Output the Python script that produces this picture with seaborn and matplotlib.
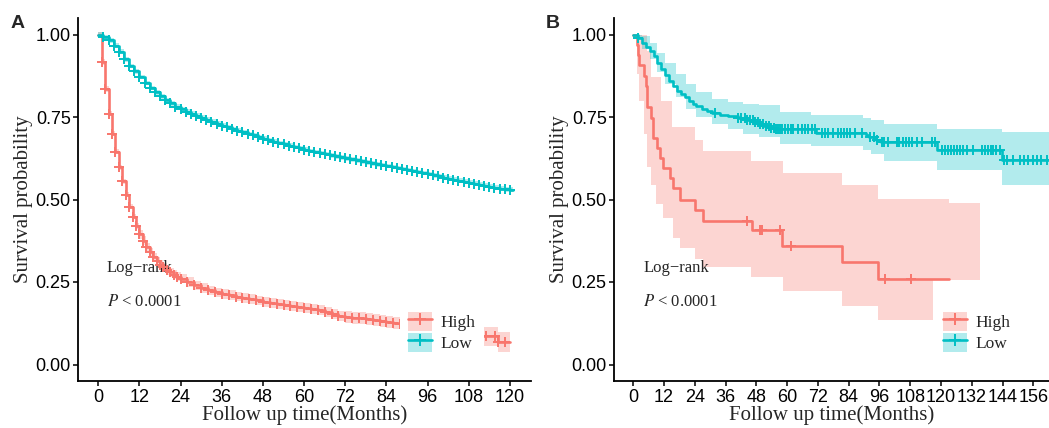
import numpy as np
import matplotlib
matplotlib.use("Agg")
import matplotlib.pyplot as plt
import seaborn as sns
from matplotlib.patches import Patch
from matplotlib.lines import Line2D
from matplotlib.legend_handler import HandlerTuple

sns.set_theme(style="ticks")
plt.rcParams['font.family'] = ['Liberation Sans', 'DejaVu Sans']
plt.rcParams['mathtext.fontset'] = 'stix'

RED = '#F8766D'
TEAL = '#00BFC4'
SERIF = ['Liberation Serif', 'DejaVu Serif']

groups = ["High", "Low"]
x_ticks_a = list(range(0, 121, 12))
x_ticks_b = list(range(0, 157, 12))
y_ticks = [0.00, 0.25, 0.50, 0.75, 1.00]

# ---------------- Panel A ----------------
high_a_time = [0, 1, 2, 3, 4, 5, 6, 7, 8, 9, 10, 11, 12, 13, 14, 15, 16, 17, 18, 19,
               20, 21, 22, 23, 24, 26, 28, 30, 32, 34, 36, 38, 40, 42, 44, 46, 48, 50,
               52, 54, 56, 58, 60, 62, 64, 66, 68, 70, 72, 74, 76, 78, 80, 82, 84, 86,
               88, 100, 111.3, 113, 115.7, 116.5, 118.5]
high_a_surv = [1.0, 0.917, 0.835, 0.76, 0.70, 0.645, 0.598, 0.555, 0.515, 0.478, 0.448,
               0.42, 0.395, 0.375, 0.355, 0.34, 0.325, 0.313, 0.303, 0.294, 0.286, 0.279,
               0.272, 0.266, 0.26, 0.25, 0.24, 0.232, 0.225, 0.219, 0.214, 0.21, 0.206,
               0.202, 0.198, 0.194, 0.19, 0.186, 0.182, 0.179, 0.176, 0.173, 0.17, 0.167,
               0.164, 0.16, 0.152, 0.148, 0.145, 0.142, 0.14, 0.138, 0.135, 0.132, 0.129,
               0.126, 0.124, 0.11, 0.085, 0.085, 0.085, 0.068, 0.068]
high_a_end = 120
high_a_ci_time = [0, 12, 36, 72, 100]
high_a_ci_half = [0.008, 0.014, 0.015, 0.018, 0.03]

low_a_time = [0, 1.5, 3, 4.5, 6, 7.5, 9, 10.5, 12, 13.5, 15, 16.5, 18, 19.5, 21, 22.5, 24,
              25.5, 27, 28.5, 30, 31.5, 33, 34.5, 36, 37.5, 39, 40.5, 42, 43.5, 45, 46.5,
              48, 49.5, 51, 52.5, 54, 55.5, 57, 58.5, 60, 61.5, 63, 64.5, 66, 67.5, 69,
              70.5, 72, 73.5, 75, 76.5, 78, 79.5, 81, 82.5, 84, 85.5, 87, 88.5, 90, 91.5,
              93, 94.5, 96, 97.5, 99, 100.5, 102, 103.5, 105, 106.5, 108, 109.5, 111,
              112.5, 114, 115.5, 117, 118.5, 120]
low_a_surv = [1.0, 0.993, 0.982, 0.966, 0.948, 0.925, 0.905, 0.888, 0.871, 0.853, 0.838,
              0.825, 0.813, 0.801, 0.791, 0.781, 0.773, 0.766, 0.760, 0.754, 0.748, 0.742,
              0.736, 0.730, 0.724, 0.719, 0.714, 0.709, 0.704, 0.699, 0.694, 0.689, 0.684,
              0.680, 0.675, 0.671, 0.667, 0.663, 0.659, 0.655, 0.651, 0.647, 0.644, 0.641,
              0.638, 0.634, 0.631, 0.628, 0.625, 0.622, 0.619, 0.616, 0.613, 0.610, 0.607,
              0.604, 0.601, 0.598, 0.595, 0.592, 0.589, 0.586, 0.583, 0.580, 0.577, 0.573,
              0.570, 0.566, 0.563, 0.560, 0.557, 0.554, 0.551, 0.548, 0.545, 0.542, 0.539,
              0.536, 0.533, 0.531, 0.530]
low_a_end = 121
low_a_ci_time = [0]
low_a_ci_half = [0.007]

# ---------------- Panel B ----------------
high_b_time = [0, 1.5, 1.9, 2.3, 4.3, 4.9, 5.3, 6.8, 7.6, 9.1, 10.4, 11.7, 14.3, 15.6,
               18.2, 24.0, 27.3, 46.1, 58.1, 81.3, 95.4]
high_b_surv = [1.0, 0.969, 0.938, 0.908, 0.875, 0.845, 0.78, 0.746, 0.686, 0.655, 0.625,
               0.595, 0.565, 0.534, 0.499, 0.469, 0.435, 0.407, 0.36, 0.31, 0.26]
high_b_end = 123.3
high_b_censor = [44.4, 49.4, 50.0, 57.4, 61.4, 98.1, 108.3]
high_b_ci_time = [0, 1.5, 2.3, 4.3, 5.3, 7.1, 9.0, 11.0, 11.6, 15.0, 15.5, 18.1, 23.9,
                  27.2, 46.0, 58.2, 81.3, 95.4, 117.0, 123.3]
high_b_ci_low = [0.99, 0.88, 0.80, 0.70, 0.60, 0.545, 0.485, 0.485, 0.444, 0.444, 0.384,
                 0.354, 0.32, 0.295, 0.266, 0.224, 0.177, 0.134, 0.255, 0.255]
high_b_ci_high = [1.0, 1.0, 1.0, 1.0, 0.95, 0.87, 0.87, 0.80, 0.80, 0.72, 0.72, 0.72,
                  0.68, 0.648, 0.618, 0.581, 0.544, 0.502, 0.502, 0.488]
high_b_ci_end = 135.3

low_b_time = [0, 1.8, 3.3, 4.8, 6.4, 7.9, 9.4, 10.9, 12.5, 14.0, 15.5, 17.0, 18.5, 20.1,
              21.6, 23.1, 24.6, 26.7, 28.7, 30.7, 33.8, 36.8, 40.9, 43.9, 47.0, 49.0, 51.0,
              53.1, 55.1, 57.1, 71.3, 90.6, 92.1, 94.7, 96.7, 118.5, 143.9]
low_b_surv = [1.0, 0.99, 0.975, 0.963, 0.95, 0.936, 0.915, 0.895, 0.877, 0.86, 0.845,
              0.83, 0.82, 0.81, 0.80, 0.79, 0.783, 0.775, 0.768, 0.763, 0.757, 0.752,
              0.746, 0.741, 0.735, 0.73, 0.724, 0.718, 0.714, 0.713, 0.703, 0.695, 0.688,
              0.681, 0.673, 0.649, 0.619]
low_b_end = 170
low_b_censor = [1.8, 31.7, 40.9, 42.1, 43.4, 44.4, 45.5, 46.7, 47.5, 48.6, 49.5, 50.5,
                51.6, 52.8, 53.6, 54.7, 55.8, 56.4, 57.2, 58.1, 59.1, 60.2, 61.5, 62.4,
                64.3, 65.7, 67.0, 68.3, 69.6, 70.8, 73.5, 74.9, 76.0, 78.0, 80.0, 81.1,
                82.3, 83.5, 84.5, 86.4, 89.1, 92.3, 93.7, 95.2, 96.9, 97.7, 99.4, 102.7,
                103.8, 105.0, 106.2, 107.4, 108.5, 110.5, 112.4, 116.4, 117.6, 120.3,
                121.6, 122.6, 123.7, 125.1, 126.1, 127.3, 128.7, 130.2, 132.6, 135.9,
                137.0, 138.2, 139.3, 140.3, 141.6, 142.9, 144.4, 145.6, 148.2, 150.8,
                152.5, 154.1, 156.0, 157.6, 159.1, 161.2]
low_b_ci_time = [0, 3.3, 6.4, 9.4, 12.5, 16.5, 20.6, 24.6, 30.7, 36.8, 42.9, 49.0, 57.1,
                 69.3, 89.6, 92.6, 97.7, 118.5, 143.9]
low_b_ci_low = [0.99, 0.955, 0.925, 0.885, 0.85, 0.81, 0.775, 0.75, 0.73, 0.715, 0.70,
                0.688, 0.669, 0.661, 0.65, 0.638, 0.618, 0.59, 0.545]
low_b_ci_high = [1.0, 0.995, 0.975, 0.945, 0.915, 0.88, 0.85, 0.825, 0.805, 0.795, 0.79,
                 0.787, 0.765, 0.755, 0.748, 0.741, 0.729, 0.714, 0.706]
low_b_ci_end = 170


def step_at(t, v, x):
    t = np.asarray(t, float)
    idx = np.searchsorted(t, np.asarray(x, float), side='right') - 1
    return np.asarray(v, float)[np.clip(idx, 0, len(t) - 1)]


def draw_band(ax, t, lo, hi, t_end, color):
    bt = np.append(np.asarray(t, float), t_end)
    lo = np.asarray(lo, float)
    hi = np.asarray(hi, float)
    ax.fill_between(bt, np.append(lo, lo[-1]), np.append(hi, hi[-1]), step='post',
                    color=color, alpha=0.3, lw=0, zorder=1)


def draw_curve(ax, t, v, t_end, cens, color):
    x = np.append(np.asarray(t, float), t_end)
    y = np.append(np.asarray(v, float), v[-1])
    sns.lineplot(x=x, y=y, ax=ax, drawstyle='steps-post', estimator=None, sort=False,
                 color=color, lw=1.9, zorder=3)
    cy = step_at(t, v, cens)
    sns.scatterplot(x=np.asarray(cens, float), y=cy, ax=ax, marker='+', s=55,
                    linewidth=1.4, color=color, zorder=4)


fig = plt.figure(figsize=(10.49, 4.28), dpi=100)
W, H = 1049, 428
AX_BOTTOM, AX_H = 47, 363
axA = fig.add_axes([78.3 / W, AX_BOTTOM / H, 452.2 / W, AX_H / H])
axB = fig.add_axes([614.3 / W, AX_BOTTOM / H, 434.7 / W, AX_H / H])

# Panel A
hwH = step_at(high_a_ci_time, high_a_ci_half, high_a_time)
draw_band(axA, high_a_time, np.array(high_a_surv) - hwH, np.array(high_a_surv) + hwH,
          high_a_end, RED)
hwL = step_at(low_a_ci_time, low_a_ci_half, low_a_time)
draw_band(axA, low_a_time, np.array(low_a_surv) - hwL, np.array(low_a_surv) + hwL,
          low_a_end, TEAL)
draw_curve(axA, high_a_time, high_a_surv, high_a_end, high_a_time[1:], RED)
draw_curve(axA, low_a_time, low_a_surv, low_a_end, low_a_time[1:], TEAL)

# Panel B
draw_band(axB, high_b_ci_time, high_b_ci_low, high_b_ci_high, high_b_ci_end, RED)
draw_band(axB, low_b_ci_time, low_b_ci_low, low_b_ci_high, low_b_ci_end, TEAL)
draw_curve(axB, high_b_time, high_b_surv, high_b_end, high_b_censor, RED)
draw_curve(axB, low_b_time, low_b_surv, low_b_end, low_b_censor, TEAL)

for ax, xt, xl in [(axA, x_ticks_a, (-5.83, 126)), (axB, x_ticks_b, (-7.4, 162.1))]:
    ax.set_xlim(*xl)
    ax.set_ylim(-0.05, 1.05)
    ax.set_xticks(xt)
    ax.set_xticklabels([str(v) for v in xt])
    ax.set_yticks(y_ticks)
    ax.set_yticklabels([f"{v:.2f}" for v in y_ticks])
    ax.tick_params(axis='both', direction='out', length=3.5, width=1.1, colors='black',
                   labelsize=13, pad=2)
    for s in ['top', 'right']:
        ax.spines[s].set_visible(False)
    for s in ['left', 'bottom']:
        ax.spines[s].set_linewidth(1.3)
        ax.spines[s].set_color('black')
    ax.set_xlabel("Follow up time(Months)", family=SERIF, fontsize=15, labelpad=0)
    ax.set_ylabel("Survival probability", family=SERIF, fontsize=15, labelpad=2)
    tx = 0.0628 if ax is axA else 0.0667
    ax.text(tx, 0.31, "Log\u2212rank", transform=ax.transAxes,
            family=SERIF, fontsize=12, va='center', ha='left')
    ax.text(tx, 0.218, "$P$ < 0.0001", transform=ax.transAxes,
            family=SERIF, fontsize=12, va='center', ha='left')
    handles = [(Patch(facecolor=RED, alpha=0.3, lw=0),
                Line2D([], [], color=RED, lw=1.9, marker='+', markersize=9, mew=1.4)),
               (Patch(facecolor=TEAL, alpha=0.3, lw=0),
                Line2D([], [], color=TEAL, lw=1.9, marker='+', markersize=9, mew=1.4))]
    anchor = (0.7105, 0.215) if ax is axA else (0.737, 0.215)
    leg = ax.legend(handles, groups, handler_map={tuple: HandlerTuple(ndivide=1, pad=0)},
                    loc='upper left', bbox_to_anchor=anchor, frameon=True, fancybox=False,
                    framealpha=1, edgecolor='none', facecolor='white', borderpad=0.5,
                    handlelength=1.35, handleheight=1.35, handletextpad=0.5,
                    labelspacing=0.08, borderaxespad=0,
                    prop={'family': SERIF, 'size': 12.5})
    leg.set_zorder(10)

fig.text(11 / W, 1 - 15 / H, "A", fontsize=14, weight='bold', va='top', ha='left')
fig.text(546 / W, 1 - 15 / H, "B", fontsize=14, weight='bold', va='top', ha='left')

fig.savefig("out.png", dpi=100)
